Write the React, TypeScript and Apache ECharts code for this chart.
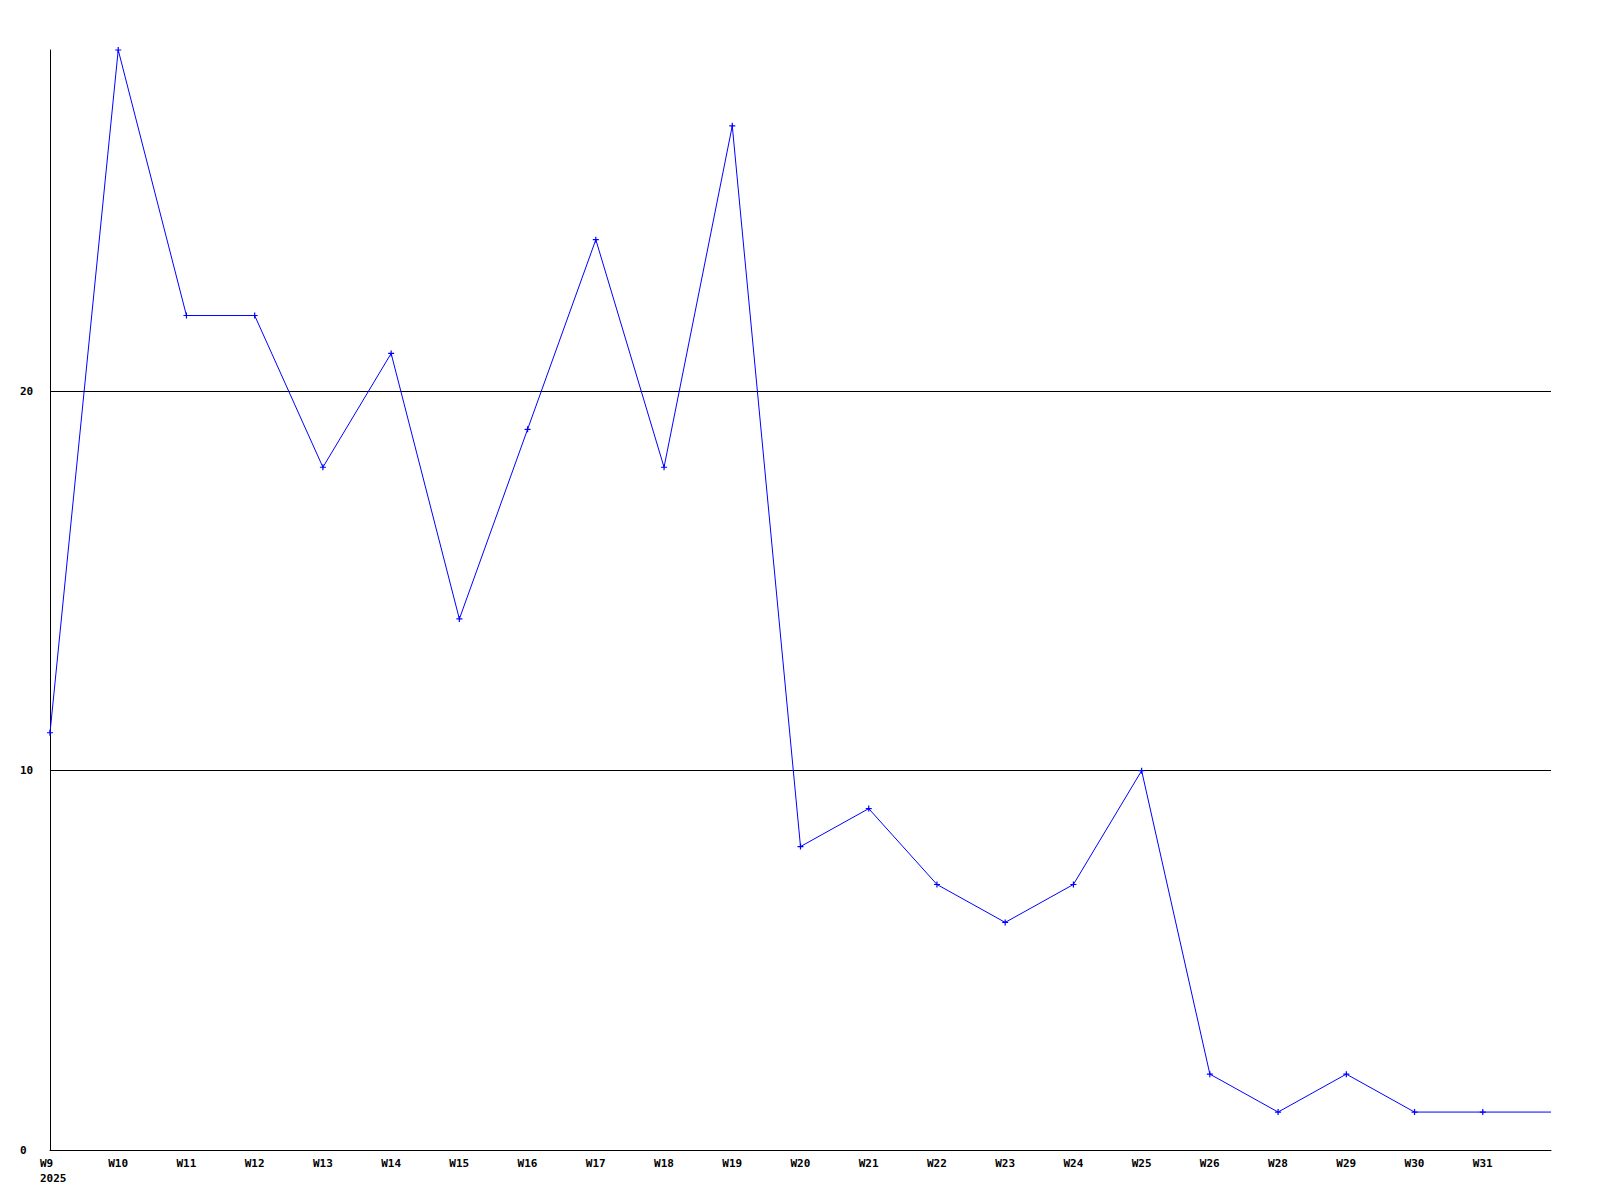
import React, { useEffect, useRef } from "react";
import * as echarts from "echarts";

const weekLabels = ["W9", "W10", "W11", "W12", "W13", "W14", "W15", "W16", "W17", "W18", "W19", "W20", "W21", "W22", "W23", "W24", "W25", "W26", "W28", "W29", "W30", "W31", ""];
const values = [11, 29, 22, 22, 18, 21, 14, 19, 24, 18, 27, 8, 9, 7, 6, 7, 10, 2, 1, 2, 1, 1, 1];
const yearLabel = "2025";
const yTicks = [0, 10, 20];

export default function App() {
  const ref = useRef<HTMLDivElement>(null);
  useEffect(() => {
    if (!ref.current) return;
    const chart = echarts.init(ref.current, undefined, { renderer: "svg" });
    const font = { fontFamily: "DejaVu Sans Mono", fontWeight: "bold" as const, fontSize: 11, color: "#000" };
    chart.setOption({
      animation: false,
      backgroundColor: "#fff",
      grid: { left: 50, top: 50, right: 49, bottom: 50, containLabel: false },
      xAxis: {
        type: "value",
        min: 0,
        max: weekLabels.length - 1,
        interval: 1,
        axisLine: { show: true, lineStyle: { color: "#000", width: 1 } },
        axisTick: { show: false },
        splitLine: { show: false },
        axisLabel: {
          ...font,
          align: "left",
          margin: 6,
          padding: [0, 0, 0, -10],
          lineHeight: 15,
          showMaxLabel: true,
          formatter: (v: number) => {
            const i = Math.round(v);
            const l = weekLabels[i] ?? "";
            return i === 0 ? l + "\n" + yearLabel : l;
          },
        },
      },
      yAxis: {
        type: "value",
        min: 0,
        max: 29,
        interval: 10,
        axisLine: { show: true, lineStyle: { color: "#000", width: 1 } },
        axisTick: { show: false },
        splitLine: { show: true, showMaxLine: false, lineStyle: { color: "#000", width: 1 } },
        axisLabel: {
          ...font,
          align: "left",
          margin: 30,
          showMaxLabel: false,
          formatter: (v: number) => (yTicks.includes(v) ? String(v) : ""),
        },
      },
      series: [
        {
          type: "line",
          data: values.map((v, i) => (i === values.length - 1 ? { value: [i, v], symbol: "none" } : [i, v])),
          lineStyle: { color: "#0000ff", width: 1 },
          itemStyle: { color: "#0000ff" },
          symbol: "path://M2,0H3V2H5V3H3V5H2V3H0V2H2Z",
          symbolSize: 6,
          showAllSymbol: true,
        },
      ],
    });
    return () => chart.dispose();
  }, []);
  return <div ref={ref} style={{ position: "fixed", left: 0, top: 0, width: 1600, height: 1200 }} />;
}
